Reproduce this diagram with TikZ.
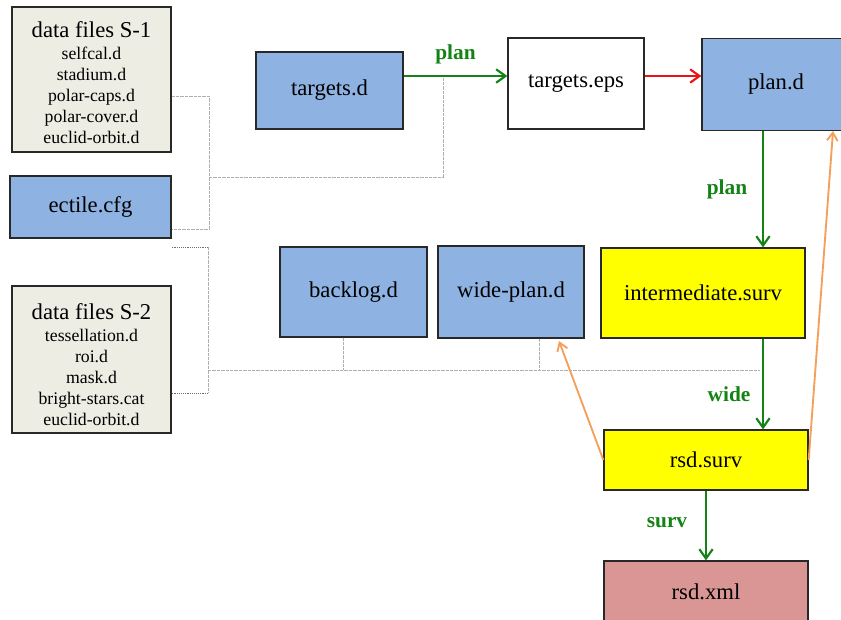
\documentclass[tikz,border=0pt]{standalone}
\usepackage{fontspec}
\setmainfont{Liberation Serif}
\usetikzlibrary{arrows.meta,calc}

\definecolor{fileblue}{RGB}{142,178,226}
\definecolor{datagray}{RGB}{237,237,228}
\definecolor{survyellow}{RGB}{255,255,0}
\definecolor{xmlrose}{RGB}{217,150,148}
\definecolor{boxline}{RGB}{40,40,40}
\definecolor{flowgreen}{RGB}{20,130,20}
\definecolor{flowred}{RGB}{235,20,20}
\definecolor{feedorange}{RGB}{245,160,90}
\definecolor{linkgray}{RGB}{175,175,175}
\definecolor{stubgray}{RGB}{110,110,110}

\begin{document}
\begin{tikzpicture}[x=0.75pt,y=-0.75pt,
  box/.style={draw=boxline, line width=1pt, inner sep=0pt, align=center,
              font=\fontsize{17}{20}\selectfont},
  bluebox/.style={box, fill=fileblue},
  databox/.style={box, fill=datagray},
  filelist/.style={inner sep=0pt, align=center, font=\fontsize{13.3}{15.8}\selectfont},
  flow/.style={line width=1.6pt,
               -{Straight Barb[length=7pt,width=10pt]}},
  feed/.style={draw=feedorange, line width=1.4pt,
               -{Straight Barb[length=6pt,width=8pt]}},
  link/.style={draw=linkgray, line width=0.6pt, dash pattern=on 2.5pt off 0.8pt},
  stub/.style={draw=stubgray, line width=0.7pt, dash pattern=on 0.7pt off 0.7pt},
  lbl/.style={text=flowgreen, font=\bfseries\fontsize{16}{18}\selectfont}]

\useasboundingbox (0,0) rectangle (841,619);

% input files
\node[databox, minimum width=119.25pt, minimum height=108.75pt] (s1) at (91.5,79.5) {};
\node[filelist] (s1list) at ($(s1)+(0,3)$)
  {{\fontsize{17}{17}\selectfont data files S-1}\\[1pt]
   selfcal.d\\ stadium.d\\ polar-caps.d\\ polar-cover.d\\ euclid-orbit.d};
\node[bluebox, minimum width=120.75pt, minimum height=46.5pt] (cfg) at (90.5,207) {ectile.cfg};
\node[databox, minimum width=119.25pt, minimum height=110.25pt] (s2) at (91.5,359.5) {};
\node[filelist] (s2list) at ($(s2)+(0,5)$)
  {{\fontsize{17}{17}\selectfont data files S-2}\\[1pt]
   tessellation.d\\ roi.d\\ mask.d\\ bright-stars.cat\\ euclid-orbit.d};

% products
\node[bluebox, minimum width=110.25pt, minimum height=57.75pt] (tgd) at (329.5,90.5) {targets.d};
\node[box, fill=white, minimum width=102pt, minimum height=68.25pt] (tge) at (576,83.5) {targets.eps};
\node[bluebox, minimum width=111pt, minimum height=69pt] (pland) at (776,84.5) {plan.d};
\node[bluebox, minimum width=110.25pt, minimum height=67.5pt] (back) at (353.5,292) {backlog.d};
\node[bluebox, minimum width=109.5pt, minimum height=69pt] (wide) at (511,292) {wide-plan.d};
\node[box, fill=survyellow, minimum width=153pt, minimum height=67.5pt] (inter) at (703,293) {intermediate.surv};
\node[box, fill=survyellow, minimum width=153pt, minimum height=45pt] (rsds) at (706,460) {rsd.surv};
\node[box, fill=xmlrose, minimum width=153pt, minimum height=46.5pt] (rsdx) at (706,592) {rsd.xml};

% helper coordinates
\coordinate (row) at (0,76);
\coordinate (col) at (763,0);
\coordinate (jA) at (209,177);
\coordinate (jB) at (208,370);
\coordinate (tapA) at (443,76);
\coordinate (endB) at (760,370);
\coordinate (wideTip) at (559,341);
\coordinate (planTip) at (833,131);

% configuration links, first group
\draw[link] (s1.east |- 0,96) -- (209,96) -- (209,229) -- (cfg.east |- 0,229);
\draw[link] (jA) -- (jA -| tapA) -- (tapA);

% configuration links, second group
\draw[stub] (cfg.east |- 0,247) -- (208,247);
\draw[stub] (s2.east |- 0,393) -- (208,393);
\draw[link] (208,247) -- (208,393);
\draw[link] (jB) -- (endB);
\draw[link] (back.south -| 343,0) -- (343,370);
\draw[link] (wide.south -| 539,0) -- (539,370);

% processing steps
\draw[flow, flowgreen] (tgd.east |- row) -- (tge.west |- row)
  node[lbl, midway, above=5pt] (l1) {plan};
\draw[flow, flowred] (tge.east |- row) -- (pland.west |- row);
\draw[flow, flowgreen] (pland.south -| col) -- (inter.north -| col);
\node[lbl] (l2) at (727,189) {plan};
\draw[flow, flowgreen] (inter.south -| col) -- (rsds.north -| col);
\node[lbl] (l3) at (729,394) {wide};
\draw[flow, flowgreen] (rsds.south) -- (rsdx.north);
\node[lbl] (l4) at (667,523) {surv};

% feedback
\draw[feed] (rsds.west) -- (wideTip);
\draw[feed] (rsds.east) -- (planTip);
\end{tikzpicture}
\end{document}
